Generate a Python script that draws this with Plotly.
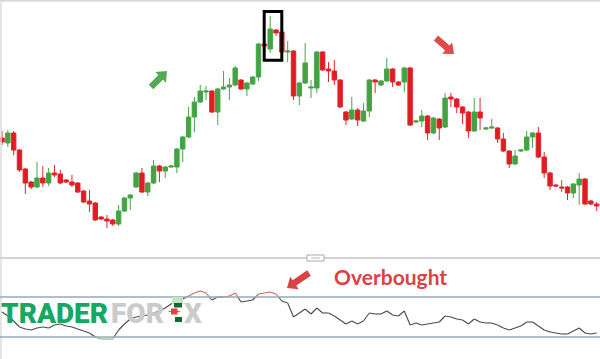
import plotly.graph_objects as go
import numpy as np

W, H = 600, 359

# ---------------- data ----------------
candle_idx = list(range(103))
open_ = [112,107,117,100,81,68,63,72,67,77,76,70,68,67,59,49,47,33,31,30,
         26,39,52,63,77,58,67,84,79,83,83,101,113,133,148,158,159,138,161,163,
         165,170,161,166,173,206,201,220,218,198,199,154,167,162,162,198,181,179,170,138,
         131,140,129,139,170,165,169,181,168,168,182,128,129,134,117,131,123,153,151,143,
         138,119,138,121,122,122,111,99,86,99,100,113,117,93,77,65,63,63,57,65,
         71,49,46]
high_ = [119,120,119,101,82,69,88,84,82,85,80,71,75,68,60,60,48,34,35,31,
         45,53,56,78,82,68,90,85,84,85,102,114,143,153,165,164,160,162,179,172,
         184,171,168,174,207,207,234,221,219,209,200,168,207,170,199,199,188,190,171,139,
         153,142,147,171,171,170,192,182,169,183,183,130,140,135,133,132,157,157,152,144,
         139,152,152,123,131,123,117,100,100,101,119,118,123,98,78,66,70,64,67,77,
         72,50,48]
low_ = [105,103,95,78,56,61,62,63,64,73,66,67,63,57,47,38,29,30,22,24,
        24,38,40,62,57,54,66,68,72,82,77,88,112,118,147,150,137,125,160,150,
        164,160,154,165,169,203,197,214,197,188,150,145,166,152,157,179,168,165,142,125,
        130,124,128,133,157,164,168,163,164,158,124,127,123,110,116,110,122,143,137,126,
        112,118,120,120,121,107,98,82,85,98,99,102,92,72,60,63,58,50,52,45,
        45,45,39]
close_ = [108,117,100,80,67,63,72,67,77,75,67,68,65,58,48,46,30,31,29,26,
          39,52,55,77,58,67,84,79,83,84,101,113,133,148,159,159,138,161,163,165,
          182,161,167,173,206,204,221,217,198,199,154,167,187,163,198,180,179,170,143,130,
          140,130,139,170,168,169,181,168,165,182,125,129,134,117,132,122,152,151,143,137,
          119,138,132,122,123,111,99,86,94,100,113,117,93,77,64,64,62,57,66,71,
          46,46,44]
rsi = [55,51,46,40,38,37,39,40,39,42,
       43,41,40,38,36,34,30,28,28,28,
       37,43,48,50,51,52,54,56,59,63,
       66,68,71,74,76,74,67,70,70,71,
       74,65,66,67,73,74,75,73,66,64,
       50,54,58,53,59,54,54,51,47,43,
       46,43,46,54,53,53,56,52,51,56,
       42,44,42,43,44,45,51,50,48,47,
       43,48,45,44,44,42,39,37,39,41,
       45,45,41,37,35,34,33,33,36,39,
       34,33,34]
rsi_upper, rsi_lower = 70, 30
annot_text = "Overbought"
wm_parts = ["TRADER", "FOR", "X"]

# ---------------- helpers ----------------
def px(x):
    return x / W

def py(y):
    return 1 - y / H

def split_segments(xs, ys, lo, hi):
    pts = []
    for i in range(len(xs) - 1):
        x0, y0, x1, y1 = xs[i], ys[i], xs[i + 1], ys[i + 1]
        pts.append((x0, y0))
        cross = []
        for lv in (lo, hi):
            if (y0 - lv) * (y1 - lv) < 0:
                t = (lv - y0) / (y1 - y0)
                cross.append((t, x0 + t * (x1 - x0), lv))
        for c in sorted(cross):
            pts.append((c[1], c[2]))
    pts.append((xs[-1], ys[-1]))
    groups = {"over": ([], []), "under": ([], []), "mid": ([], [])}
    for (xa, ya), (xb, yb) in zip(pts[:-1], pts[1:]):
        m = (ya + yb) / 2
        key = "over" if m > hi else ("under" if m < lo else "mid")
        gx, gy = groups[key]
        gx += [xa, xb, None]
        gy += [ya, yb, None]
    return groups

def arrow_path(tail, head, sw, hw, hl):
    t = np.array(tail, float); h = np.array(head, float)
    d = (h - t) / np.linalg.norm(h - t)
    n = np.array([-d[1], d[0]])
    b = h - d * hl
    P = [t + n * sw / 2, b + n * sw / 2, b + n * hw / 2, h,
         b - n * hw / 2, b - n * sw / 2, t - n * sw / 2]
    return "M " + " L ".join(f"{px(p[0]):.5f},{py(p[1]):.5f}" for p in P) + " Z"

# ---------------- figure ----------------
fig = go.Figure()

fig.add_trace(go.Candlestick(
    x=candle_idx, open=open_, high=high_, low=low_, close=close_,
    increasing=dict(line=dict(color="#47a447", width=1), fillcolor="#43a343"),
    decreasing=dict(line=dict(color="#e0252b", width=1), fillcolor="#e01b22"),
    xaxis="x", yaxis="y", showlegend=False, hoverinfo="skip"))

groups = split_segments(candle_idx, rsi, rsi_lower, rsi_upper)
seg_colors = {"mid": "#4a4a4a", "over": "#d9605e", "under": "#6cbf6c"}
for key in ("mid", "over", "under"):
    gx, gy = groups[key]
    fig.add_trace(go.Scatter(x=gx, y=gy, mode="lines", xaxis="x", yaxis="y2",
                             line=dict(color=seg_colors[key], width=1.1),
                             showlegend=False, hoverinfo="skip"))

shapes = []
# panel borders / separator
shapes.append(dict(type="line", xref="paper", yref="paper", x0=0, x1=1, y0=py(0.8), y1=py(0.8),
                   line=dict(color="#d9d9d9", width=2)))
shapes.append(dict(type="line", xref="paper", yref="paper", x0=px(1), x1=px(1), y0=0, y1=1,
                   line=dict(color="#dcdcdc", width=1.5)))
shapes.append(dict(type="line", xref="paper", yref="paper", x0=0, x1=1, y0=py(258), y1=py(258),
                   line=dict(color="#d4d4d4", width=2)))
shapes.append(dict(type="rect", xref="paper", yref="paper", x0=px(307), x1=px(324), y0=py(261), y1=py(255),
                   fillcolor="white", line=dict(color="#a8a8a8", width=1)))
shapes.append(dict(type="line", xref="paper", yref="paper", x0=px(311), x1=px(320), y0=py(258), y1=py(258),
                   line=dict(color="#b8b8b8", width=1)))
# RSI band lines
for lv in (rsi_upper, rsi_lower):
    shapes.append(dict(type="line", xref="paper", yref="y2", x0=0, x1=1, y0=lv, y1=lv,
                       line=dict(color="#93a8ba", width=1.5)))
# highlight box
shapes.append(dict(type="rect", xref="paper", yref="paper", x0=px(264.2), x1=px(281.8),
                   y0=py(60.3), y1=py(11.5), line=dict(color="black", width=3)))
# arrows
shapes.append(dict(type="path", xref="paper", yref="paper",
                   path=arrow_path((151, 87), (167, 71), 6.5, 15, 9),
                   fillcolor="#55a955", line=dict(width=0)))
shapes.append(dict(type="path", xref="paper", yref="paper",
                   path=arrow_path((436, 38), (454, 54), 6.5, 15, 9),
                   fillcolor="#e04a4a", line=dict(width=0)))
shapes.append(dict(type="path", xref="paper", yref="paper",
                   path=arrow_path((309, 273), (287, 288), 6.5, 15, 9),
                   fillcolor="#d94343", line=dict(width=0)))
# watermark icon
shapes.append(dict(type="rect", xref="paper", yref="paper", x0=px(172), x1=px(183), y0=py(304), y1=py(297),
                   fillcolor="#c3e4c3", line=dict(width=0), layer="above"))
shapes.append(dict(type="rect", xref="paper", yref="paper", x0=px(174), x1=px(182), y0=py(307.5), y1=py(303),
                   fillcolor="#0f6a2e", line=dict(width=0)))
shapes.append(dict(type="line", xref="paper", yref="paper", x0=px(168.5), x1=px(180), y0=py(311.5), y1=py(311.5),
                   line=dict(color="#ee5555", width=1)))
shapes.append(dict(type="rect", xref="paper", yref="paper", x0=px(171), x1=px(177.5), y0=py(314.5), y1=py(308.5),
                   fillcolor="#ee3b3b", line=dict(width=0)))
shapes.append(dict(type="rect", xref="paper", yref="paper", x0=px(175), x1=px(182), y0=py(322), y1=py(317),
                   fillcolor="#0f6a2e", line=dict(width=0)))

wm_font = "Roboto"
annotations = [
    dict(xref="paper", yref="paper", x=px(-1.5), y=py(313.5), xanchor="left", yanchor="middle",
         text=wm_parts[0], showarrow=False,
         font=dict(family=wm_font, size=28, weight=900, color="#17a763")),
    dict(xref="paper", yref="paper", x=px(137), y=py(313.5), xanchor="center", yanchor="middle",
         text=wm_parts[1], showarrow=False,
         font=dict(family=wm_font, size=28, weight=900, color="#cbcbcb")),
    dict(xref="paper", yref="paper", x=px(193), y=py(313.5), xanchor="center", yanchor="middle",
         text=wm_parts[2], showarrow=False,
         font=dict(family=wm_font, size=28, weight=900, color="#cbcbcb")),
    dict(xref="paper", yref="paper", x=px(332), y=py(276), xanchor="left", yanchor="middle",
         text=f"<b>{annot_text}</b>", showarrow=False,
         font=dict(family="Lato", size=21, color="#d94343")),
]

fig.update_layout(
    width=W, height=H, margin=dict(l=0, r=0, t=0, b=0),
    paper_bgcolor="white", plot_bgcolor="white",
    boxgap=0.2, boxgroupgap=0.05,
    xaxis=dict(range=[-0.343, 102.57], visible=False, rangeslider=dict(visible=False), fixedrange=True),
    yaxis=dict(domain=[1 - 258 / H, 1], range=[-8, 250], visible=False, fixedrange=True),
    yaxis2=dict(domain=[0, 1 - 262 / H], range=[367 - 359, 367 - 262], visible=False,
                anchor="x", fixedrange=True),
    shapes=shapes, annotations=annotations, showlegend=False,
)

fig.write_html("out.html", config={"displayModeBar": False},
               post_script="document.body.style.margin='0px';document.body.style.overflow='hidden';")
